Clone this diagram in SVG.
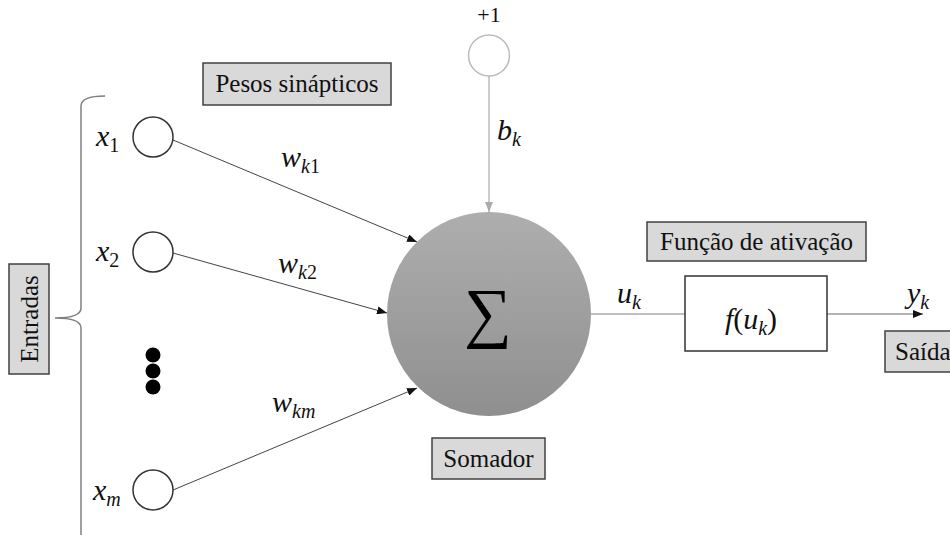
<svg xmlns="http://www.w3.org/2000/svg" width="950" height="535" viewBox="0 0 950 535">
<style>
.lbl{font-family:"Liberation Serif","DejaVu Serif",serif;font-size:25px;fill:#111}
.box{fill:#d9d9d9;stroke:#404040;stroke-width:1.5}
.math{font-family:"Liberation Serif","DejaVu Serif",serif;font-style:italic;font-size:30px;fill:#111}
.sub{font-size:20px}
.up{font-style:normal}
.in{fill:#fff;stroke:#333;stroke-width:1.5}
.conn{stroke:#444;stroke-width:1;fill:none}
.num{font-family:"Liberation Serif","DejaVu Serif",serif;font-size:22px;fill:#111}
.sig{font-family:"Liberation Serif","DejaVu Serif",serif;font-size:67px;fill:#000}
</style>
<defs>
<linearGradient id="g" x1="0" y1="0" x2="0" y2="1">
<stop offset="0" stop-color="#aeaeae"/>
<stop offset="1" stop-color="#8f8f8f"/>
</linearGradient>
<marker id="ah" viewBox="0 0 10 8" refX="10" refY="4" markerWidth="10" markerHeight="8" markerUnits="userSpaceOnUse" orient="auto">
<path d="M0,0 L10,4 L0,8 Z" fill="#111"/>
</marker>
<marker id="ahg" viewBox="0 0 10 8" refX="10" refY="4" markerWidth="10" markerHeight="8" markerUnits="userSpaceOnUse" orient="auto">
<path d="M0,0 L10,4 L0,8 Z" fill="#aaa"/>
</marker>
</defs>

<g id="connectors">
<line class="conn" x1="173" y1="140" x2="417" y2="242" marker-end="url(#ah)"/>
<line class="conn" x1="173" y1="253" x2="387" y2="313" marker-end="url(#ah)"/>
<line class="conn" x1="173" y1="490" x2="417" y2="388" marker-end="url(#ah)"/>
<line x1="489" y1="76" x2="489" y2="212" stroke="#bbb" stroke-width="1.5" marker-end="url(#ahg)"/>
<line x1="591" y1="314" x2="685" y2="314" stroke="#aaa" stroke-width="1.5"/>
<line x1="827" y1="314" x2="923" y2="314" stroke="#999" stroke-width="1.5" marker-end="url(#ah)"/>
</g>

<g id="brace">
<path d="M105,96 Q81,96 81,106 L81,308 Q81,318 55,318 Q81,318 81,328 L81,535" fill="none" stroke="#808080" stroke-width="1.5"/>
</g>

<g id="entradas">
<rect class="box" x="9" y="264" width="40" height="110"/>
<text class="lbl" transform="translate(38,319) rotate(-90)" text-anchor="middle">Entradas</text>
</g>

<g id="x1">
<circle class="in" cx="153" cy="137" r="20"/>
<text class="math" x="96" y="146">x<tspan class="sub up" dy="6">1</tspan></text>
</g>
<g id="x2">
<circle class="in" cx="153" cy="252" r="20"/>
<text class="math" x="96" y="261">x<tspan class="sub up" dy="6">2</tspan></text>
</g>
<g id="dots">
<circle cx="153" cy="355" r="7.5" fill="#000"/>
<circle cx="153" cy="371" r="7.5" fill="#000"/>
<circle cx="153" cy="387" r="7.5" fill="#000"/>
</g>
<g id="xm">
<circle class="in" cx="153" cy="490" r="20"/>
<text class="math" x="93" y="500">x<tspan class="sub" dy="6">m</tspan></text>
</g>

<g id="pesos">
<rect class="box" x="203" y="63" width="188" height="42"/>
<text class="lbl" x="297" y="92" text-anchor="middle">Pesos sinápticos</text>
</g>

<g id="weights">
<text class="math" x="281" y="167">w<tspan class="sub" dy="6">k</tspan><tspan class="sub up">1</tspan></text>
<text class="math" x="278" y="273">w<tspan class="sub" dy="6">k</tspan><tspan class="sub up">2</tspan></text>
<text class="math" x="272" y="412">w<tspan class="sub" dy="6">km</tspan></text>
</g>

<g id="bias">
<text class="num" x="489" y="22" text-anchor="middle">+1</text>
<circle cx="489" cy="55.5" r="20.5" fill="#fff" stroke="#bbb" stroke-width="1.5"/>
<text class="math" x="497" y="140">b<tspan class="sub" dy="6">k</tspan></text>
</g>

<g id="somador">
<circle cx="489" cy="314" r="102" fill="url(#g)"/>
<text class="sig" x="488" y="335" text-anchor="middle">∑</text>
</g>
<g id="somador-label">
<rect class="box" x="432" y="438" width="113" height="41"/>
<text class="lbl" x="488.5" y="467" text-anchor="middle">Somador</text>
</g>

<g id="uk">
<text class="math" x="617" y="303">u<tspan class="sub" dy="6">k</tspan></text>
</g>

<g id="ativacao-label">
<rect class="box" x="647" y="222" width="219" height="39"/>
<text class="lbl" x="756.5" y="250" text-anchor="middle">Função de ativação</text>
</g>

<g id="ativacao">
<rect x="685" y="276" width="142" height="75" fill="#fff" stroke="#333" stroke-width="1.5"/>
<text class="math" x="751" y="329" text-anchor="middle">f<tspan class="up">(</tspan>u<tspan class="sub" dy="6">k</tspan><tspan class="up" dy="-6">)</tspan></text>
</g>

<g id="yk">
<text class="math" x="907" y="303">y<tspan class="sub" dy="6">k</tspan></text>
</g>

<g id="saida">
<rect class="box" x="885" y="331" width="80" height="41"/>
<text class="lbl" x="895" y="360">Saída</text>
</g>
</svg>
